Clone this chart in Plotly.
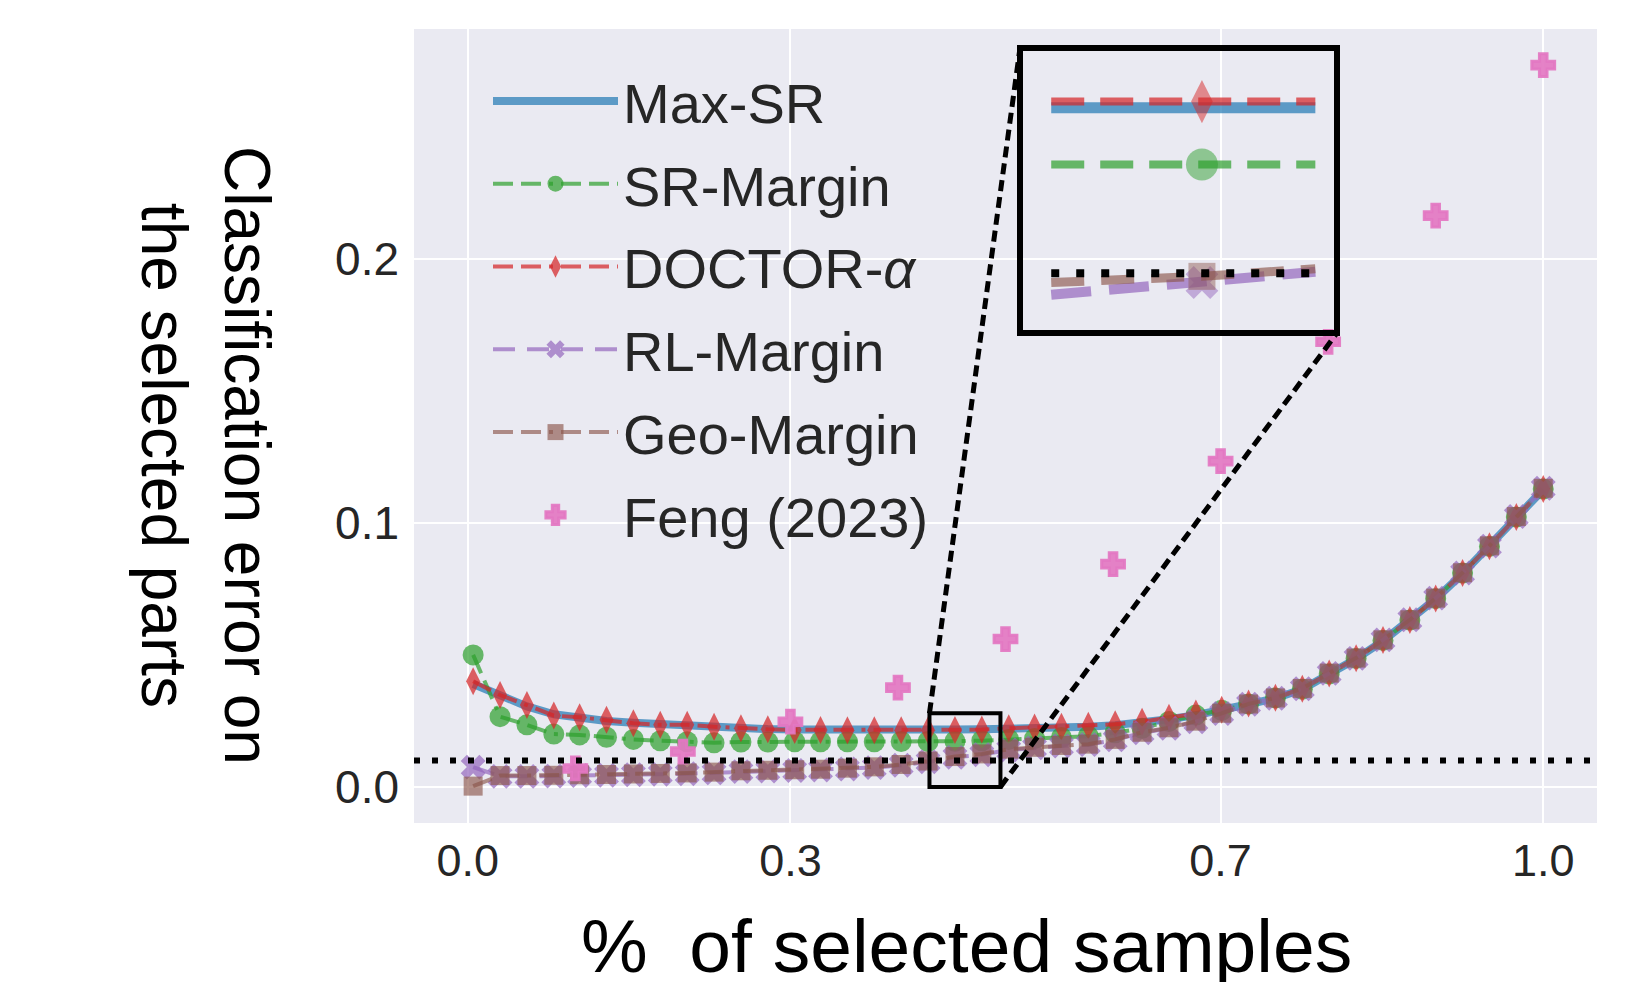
import plotly.graph_objects as go

# ---------------- data ----------------
coverage = [0.005, 0.030, 0.055, 0.080, 0.104, 0.129, 0.154, 0.179, 0.204, 0.229,
            0.254, 0.279, 0.304, 0.328, 0.353, 0.378, 0.403, 0.428, 0.453, 0.478,
            0.503, 0.527, 0.552, 0.577, 0.602, 0.627, 0.652, 0.677, 0.701, 0.726,
            0.751, 0.776, 0.801, 0.826, 0.851, 0.876, 0.900, 0.925, 0.950, 0.975, 1.000]

max_sr = [0.0390, 0.0345, 0.0305, 0.0275, 0.0260, 0.0250, 0.0243, 0.0237, 0.0232, 0.0227,
          0.0222, 0.0219, 0.0217, 0.0216, 0.0216, 0.0216, 0.0216, 0.0216, 0.0217, 0.0218,
          0.0219, 0.0221, 0.0224, 0.0228, 0.0234, 0.0243, 0.0256, 0.0272, 0.0290, 0.0313,
          0.0336, 0.0370, 0.0428, 0.0485, 0.0553, 0.0630, 0.0712, 0.0808, 0.0910, 0.1020, 0.1126]

sr_margin = [0.0500, 0.0266, 0.0235, 0.0200, 0.0197, 0.0188, 0.0180, 0.0175, 0.0171, 0.0167,
             0.0170, 0.0170, 0.0171, 0.0171, 0.0171, 0.0171, 0.0172, 0.0172, 0.0173, 0.0175,
             0.0180, 0.0183, 0.0187, 0.0192, 0.0205, 0.0222, 0.0248, 0.0272, 0.0290, 0.0314,
             0.0337, 0.0370, 0.0428, 0.0486, 0.0555, 0.0632, 0.0713, 0.0810, 0.0911, 0.1022, 0.1128]

doctor_alpha = [0.0400, 0.0348, 0.0310, 0.0270, 0.0264, 0.0254, 0.0241, 0.0235, 0.0235, 0.0228,
                0.0222, 0.0218, 0.0216, 0.0216, 0.0215, 0.0215, 0.0215, 0.0215, 0.0216, 0.0217,
                0.0222, 0.0225, 0.0228, 0.0232, 0.0237, 0.0247, 0.0262, 0.0278, 0.0292, 0.0316,
                0.0338, 0.0372, 0.0430, 0.0487, 0.0556, 0.0632, 0.0714, 0.0810, 0.0912, 0.1022, 0.1128]

rl_margin = [0.0075, 0.0040, 0.0040, 0.0041, 0.0043, 0.0044, 0.0046, 0.0048, 0.0050, 0.0053,
             0.0058, 0.0060, 0.0062, 0.0064, 0.0068, 0.0073, 0.0082, 0.0095, 0.0112, 0.0122,
             0.0140, 0.0148, 0.0155, 0.0160, 0.0178, 0.0205, 0.0222, 0.0247, 0.0278, 0.0313,
             0.0336, 0.0372, 0.0430, 0.0487, 0.0557, 0.0633, 0.0715, 0.0810, 0.0912, 0.1024, 0.1131]

geo_margin = [0.0003, 0.0043, 0.0043, 0.0044, 0.0046, 0.0047, 0.0049, 0.0051, 0.0053, 0.0056,
              0.0061, 0.0063, 0.0065, 0.0067, 0.0071, 0.0076, 0.0085, 0.0098, 0.0115, 0.0125,
              0.0143, 0.0150, 0.0157, 0.0162, 0.0180, 0.0207, 0.0224, 0.0249, 0.0279, 0.0314,
              0.0337, 0.0373, 0.0431, 0.0488, 0.0557, 0.0633, 0.0715, 0.0811, 0.0913, 0.1024, 0.1131]

feng_x = [0.1, 0.2, 0.3, 0.4, 0.5, 0.6, 0.7, 0.8, 0.9, 1.0]
feng_2023 = [0.0070, 0.0134, 0.0247, 0.0376, 0.0560, 0.0844, 0.1234, 0.1686, 0.2164, 0.2734]

target_risk = 0.01

x_tick_vals = [0.0, 0.3, 0.7, 1.0]
x_tick_text = ["0.0", "0.3", "0.7", "1.0"]
y_tick_vals = [0.0, 0.1, 0.2]
y_tick_text = ["0.0", "0.1", "0.2"]

# zoomed region (inset)
zoom_box_x = [0.4293, 0.4953]
zoom_box_y = [0.0, 0.0279]
inset_x = [0.4359, 0.4674, 0.4911]
inset_max_sr = [0.0208, 0.0208, 0.0208]
inset_sr_margin = [0.0171, 0.0171, 0.0171]
inset_doctor = [0.0212, 0.0212, 0.0212]
inset_rl = [0.0086, 0.0094, 0.0101]
inset_geo = [0.0094, 0.0098, 0.0103]
inset_x_range = [0.430, 0.495]
inset_y_range = [0.0063, 0.0245]

# ---------------- styling ----------------
FONT = "Liberation Sans, Arial, sans-serif"
W, H = 1625, 982
M_L, M_R, M_T, M_B = 414, 28, 29, 159
X_RANGE = [-0.05, 1.05]
Y_RANGE = [-0.01367, 0.28707]

C_BLUE = "rgba(31,119,180,0.7)"
C_GREEN = "rgba(44,160,44,0.7)"
C_RED = "rgba(214,39,40,0.72)"
C_PURPLE = "rgba(148,103,189,0.7)"
C_BROWN = "rgba(140,86,75,0.65)"
C_PINK = "rgba(227,119,194,0.92)"

fig = go.Figure()

series = [
    ("Max-SR", max_sr, C_BLUE, "solid", 8, None, 0),
    ("SR-Margin", sr_margin, C_GREEN, "20px,8px,20px,8px,4px,8px", 4, "circle", 21),
    ("DOCTOR-<i>α</i>", doctor_alpha, C_RED, "20px,8px,20px,8px,4px,8px", 4, "diamond-tall", 20),
    ("RL-Margin", rl_margin, C_PURPLE, "22px,12px", 4, "x", 22),
    ("Geo-Margin", geo_margin, C_BROWN, "20px,8px,20px,8px,4px,8px", 4, "square", 19),
]
for i, (name, ys, col, dash, lw, sym, ms) in enumerate(series):
    if sym is None:
        fig.add_trace(go.Scatter(x=coverage, y=ys, mode="lines", name=name,
                                 legendgroup=f"g{i}",
                                 line=dict(color=col, width=lw, dash=dash)))
    else:
        fig.add_trace(go.Scatter(x=coverage, y=ys, mode="lines+markers", name=name,
                                 legendgroup=f"g{i}",
                                 line=dict(color=col, width=lw, dash=dash),
                                 marker=dict(symbol=sym, size=ms, color=col, line=dict(width=0))))

fig.add_trace(go.Scatter(x=feng_x, y=feng_2023, mode="markers", name="Feng (2023)",
                         legendgroup="g5",
                         marker=dict(symbol="cross", size=19, color=C_PINK,
                                     line=dict(width=3, color=C_PINK))))

# ---------------- inset traces ----------------
inset_series = [
    (inset_max_sr, C_BLUE, "solid", 11, None, 0),
    (inset_doctor, C_RED, "33px,16px", 8, "diamond-tall", 31),
    (inset_sr_margin, C_GREEN, "33px,16px", 8, "circle", 32),
    (inset_rl, C_PURPLE, "40px,18px", 10, "x", 29),
    (inset_geo, C_BROWN, "33px,17px", 9, "square", 27),
]
for ys, col, dash, lw, sym, ms in inset_series:
    if sym is None:
        fig.add_trace(go.Scatter(x=inset_x, y=ys, mode="lines", showlegend=False,
                                 xaxis="x2", yaxis="y2", hoverinfo="skip",
                                 line=dict(color=col, width=lw, dash=dash)))
    else:
        fig.add_trace(go.Scatter(x=inset_x, y=ys, mode="lines+markers", showlegend=False,
                                 xaxis="x2", yaxis="y2", hoverinfo="skip",
                                 line=dict(color=col, width=lw, dash=dash),
                                 marker=dict(symbol=sym, size=[0, ms, 0], color=col,
                                             line=dict(width=0))))

# inset placement (plot-area fractions)
PW = W - M_L - M_R
PH = H - M_T - M_B
inset_dom_x = [(1023 - M_L) / PW, (1334 - M_L) / PW]
inset_dom_y = [(H - M_B - 330) / PH, (H - M_B - 51) / PH]


def to_paper(xv, yv):
    px = (xv - X_RANGE[0]) / (X_RANGE[1] - X_RANGE[0])
    py = (yv - Y_RANGE[0]) / (Y_RANGE[1] - Y_RANGE[0])
    return px, py


shapes = [
    # main plot background
    dict(type="rect", xref="x domain", yref="y domain", x0=0, x1=1, y0=0, y1=1,
         fillcolor="#EAEAF2", line=dict(width=0), layer="below"),
    # target risk line
    dict(type="line", xref="x domain", yref="y", x0=0, x1=1, y0=target_risk, y1=target_risk,
         line=dict(color="black", width=6, dash="6px,12px")),
    # zoom box
    dict(type="rect", xref="x", yref="y", x0=zoom_box_x[0], x1=zoom_box_x[1],
         y0=zoom_box_y[0], y1=zoom_box_y[1], line=dict(color="black", width=4)),
    # target risk inside inset
    dict(type="line", xref="x2", yref="y2", x0=inset_x[0], x1=inset_x[-1],
         y0=target_risk, y1=target_risk,
         line=dict(color="black", width=8, dash="8px,17px")),
]
tlx, tly = to_paper(zoom_box_x[0], zoom_box_y[1])
brx, bry = to_paper(zoom_box_x[1], zoom_box_y[0])
shapes.append(dict(type="line", xref="paper", yref="paper", x0=tlx, y0=tly,
                   x1=inset_dom_x[0] - 3 / PW, y1=inset_dom_y[1] + 3 / PH,
                   line=dict(color="black", width=5, dash="11px,6px")))
shapes.append(dict(type="line", xref="paper", yref="paper", x0=brx, y0=bry,
                   x1=inset_dom_x[1] + 3 / PW, y1=inset_dom_y[0] - 3 / PH,
                   line=dict(color="black", width=5, dash="11px,6px")))

annotations = [
    dict(text="Classification error on<br>the selected parts", textangle=90,
         xref="paper", yref="paper", x=(205 - M_L) / PW, y=(H - M_B - 455) / PH,
         xanchor="center", yanchor="middle", showarrow=False, align="center",
         font=dict(family=FONT, size=64, color="black")),
    dict(text="%\u00a0 of selected samples",
         xref="paper", yref="paper", x=(966 - M_L) / PW, y=(H - M_B - 946) / PH,
         xanchor="center", yanchor="middle", showarrow=False,
         font=dict(family=FONT, size=75, color="black")),
]

fig.update_layout(
    width=W, height=H,
    margin=dict(l=M_L, r=M_R, t=M_T, b=M_B),
    paper_bgcolor="white",
    plot_bgcolor="rgba(0,0,0,0)",
    font=dict(family=FONT, color="#262626"),
    shapes=shapes,
    annotations=annotations,
    xaxis=dict(range=X_RANGE, tickvals=x_tick_vals, ticktext=x_tick_text,
               showgrid=True, gridcolor="white", gridwidth=2, zeroline=False,
               showline=False, ticks="", ticklabelstandoff=7,
               tickfont=dict(family=FONT, size=45, color="#262626")),
    yaxis=dict(range=Y_RANGE, tickvals=y_tick_vals, ticktext=y_tick_text,
               showgrid=True, gridcolor="white", gridwidth=2, zeroline=False,
               showline=False, ticks="", ticklabelstandoff=14,
               tickfont=dict(family=FONT, size=46, color="#262626")),
    xaxis2=dict(domain=inset_dom_x, anchor="y2", range=inset_x_range,
                showgrid=False, zeroline=False, showticklabels=False, ticks="",
                showline=True, mirror=True, linecolor="black", linewidth=6),
    yaxis2=dict(domain=inset_dom_y, anchor="x2", range=inset_y_range,
                showgrid=False, zeroline=False, showticklabels=False, ticks="",
                showline=True, mirror=True, linecolor="black", linewidth=6),
    legend=dict(x=(488 - M_L) / PW, y=(H - M_B - 58) / PH, xanchor="left", yanchor="top",
                bgcolor="rgba(0,0,0,0)", borderwidth=0, traceorder="grouped",
                tracegroupgap=7, itemwidth=125,
                font=dict(family=FONT, size=56, color="#262626")),
    showlegend=True,
)

fig.write_html("out.html")
